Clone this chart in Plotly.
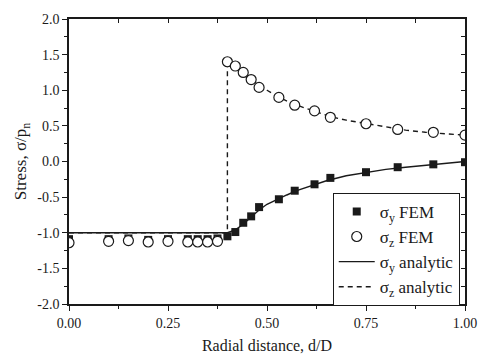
import plotly.graph_objects as go

# ---- data ----
sy_fem_x = [0.0, 0.10, 0.15, 0.20, 0.25, 0.30, 0.325, 0.35, 0.375,
            0.40, 0.42, 0.44, 0.46, 0.48, 0.53, 0.57, 0.62, 0.66, 0.75, 0.83, 0.92, 1.0]
sy_fem_y = [-1.09, -1.09, -1.08, -1.10, -1.09, -1.09, -1.09, -1.09, -1.08,
            -1.05, -0.99, -0.86, -0.77, -0.64, -0.53, -0.41, -0.32, -0.23, -0.15, -0.08, -0.04, -0.01]

sz_fem_x = [0.0, 0.10, 0.15, 0.20, 0.25, 0.30, 0.325, 0.35, 0.375,
            0.40, 0.42, 0.44, 0.46, 0.48, 0.53, 0.57, 0.62, 0.66, 0.75, 0.83, 0.92, 1.0]
sz_fem_y = [-1.14, -1.12, -1.11, -1.13, -1.12, -1.13, -1.13, -1.13, -1.12,
            1.40, 1.34, 1.25, 1.15, 1.04, 0.90, 0.79, 0.71, 0.62, 0.53, 0.45, 0.41, 0.37]

sy_an_x = [0.0, 0.40, 0.42, 0.44, 0.46, 0.48, 0.50, 0.525, 0.55, 0.575, 0.60,
           0.65, 0.70, 0.75, 0.80, 0.85, 0.90, 0.95, 1.0]
sy_an_y = [-1.0, -1.0, -0.96, -0.88, -0.78, -0.68, -0.60, -0.53, -0.47, -0.41, -0.36,
           -0.27, -0.20, -0.15, -0.11, -0.08, -0.05, -0.025, 0.0]

sz_an_x = [0.0, 0.40, 0.40, 0.42, 0.44, 0.46, 0.48, 0.50, 0.53, 0.57, 0.62,
           0.66, 0.70, 0.75, 0.80, 0.85, 0.90, 0.95, 1.0]
sz_an_y = [-1.0, -1.0, 1.40, 1.33, 1.25, 1.16, 1.07, 1.00, 0.90, 0.80, 0.71,
           0.63, 0.58, 0.53, 0.48, 0.44, 0.41, 0.39, 0.37]

x_ticks = [0.0, 0.25, 0.5, 0.75, 1.0]
x_tick_text = ["0.00", "0.25", "0.50", "0.75", "1.00"]
y_ticks = [-2.0, -1.5, -1.0, -0.5, 0.0, 0.5, 1.0, 1.5, 2.0]
y_tick_text = ["-2.0", "-1.5", "-1.0", "-0.5", "0.0", "0.5", "1.0", "1.5", "2.0"]

FONT = "Liberation Serif, Times New Roman, serif"
INK = "#1a1a1a"

fig = go.Figure()

fig.add_trace(go.Scatter(
    x=sy_an_x, y=sy_an_y, mode="lines", name="σ<sub>y</sub> analytic",
    line=dict(color=INK, width=1.4), legendrank=3))
fig.add_trace(go.Scatter(
    x=sz_an_x, y=sz_an_y, mode="lines", name="σ<sub>z</sub> analytic",
    line=dict(color=INK, width=1.4, dash="5px,4px"), legendrank=4))
fig.add_trace(go.Scatter(
    x=sy_fem_x, y=sy_fem_y, mode="markers", name="σ<sub>y</sub> FEM",
    marker=dict(symbol="square", size=8, color=INK, line=dict(width=0)),
    legendrank=1))
fig.add_trace(go.Scatter(
    x=sz_fem_x, y=sz_fem_y, mode="markers", name="σ<sub>z</sub> FEM",
    marker=dict(symbol="circle", size=10, color="white", line=dict(color=INK, width=1.2)),
    legendrank=2))
# empty trace so the mirrored (inward-tick) axes are drawn
fig.add_trace(go.Scatter(x=[], y=[], xaxis="x2", yaxis="y2", showlegend=False,
                         hoverinfo="skip"))

fig.update_layout(
    width=489, height=364,
    margin=dict(l=69, r=19, t=15, b=57),
    paper_bgcolor="white", plot_bgcolor="white",
    font=dict(family=FONT, size=14, color=INK),
    showlegend=True,
    legend=dict(
        x=0.666, y=0.39, xanchor="left", yanchor="top",
        bgcolor="white", bordercolor=INK, borderwidth=1,
        font=dict(family=FONT, size=17, color=INK),
        traceorder="normal", itemwidth=36,
    ),
    xaxis=dict(
        range=[0, 1], tickvals=x_ticks, ticktext=x_tick_text,
        showgrid=False, zeroline=False, showline=True, linecolor=INK, linewidth=1.5,
        ticks="outside", ticklen=5, tickwidth=1.2, tickcolor=INK,
        minor=dict(dtick=0.125, tick0=0, ticks="outside", ticklen=3, tickcolor=INK, tickwidth=1),
        tickfont=dict(family=FONT, size=14, color=INK),
        title=dict(text="Radial distance, d/D", font=dict(family=FONT, size=16, color=INK), standoff=10),
    ),
    yaxis=dict(
        range=[-2, 2], tickvals=y_ticks, ticktext=y_tick_text,
        showgrid=False, zeroline=False, showline=True, linecolor=INK, linewidth=1.5,
        ticks="outside", ticklen=5, tickwidth=1.2, tickcolor=INK,
        minor=dict(dtick=0.25, tick0=0, ticks="outside", ticklen=3, tickcolor=INK, tickwidth=1),
        tickfont=dict(family=FONT, size=14, color=INK),
        title=dict(text="Stress, σ/p<sub>n</sub>", font=dict(family=FONT, size=17, color=INK), standoff=6),
    ),
    xaxis2=dict(
        overlaying="x", side="top", range=[0, 1], showgrid=False, zeroline=False,
        showline=True, linecolor=INK, linewidth=1.5, showticklabels=False,
        ticks="inside", ticklen=4, tickwidth=1, tickcolor=INK, dtick=0.125, tick0=0,
    ),
    yaxis2=dict(
        overlaying="y", side="right", range=[-2, 2], showgrid=False, zeroline=False,
        showline=True, linecolor=INK, linewidth=1.5, showticklabels=False,
        ticks="inside", ticklen=4, tickwidth=1, tickcolor=INK, dtick=0.25, tick0=0,
    ),
)

fig.write_html("out.html")
